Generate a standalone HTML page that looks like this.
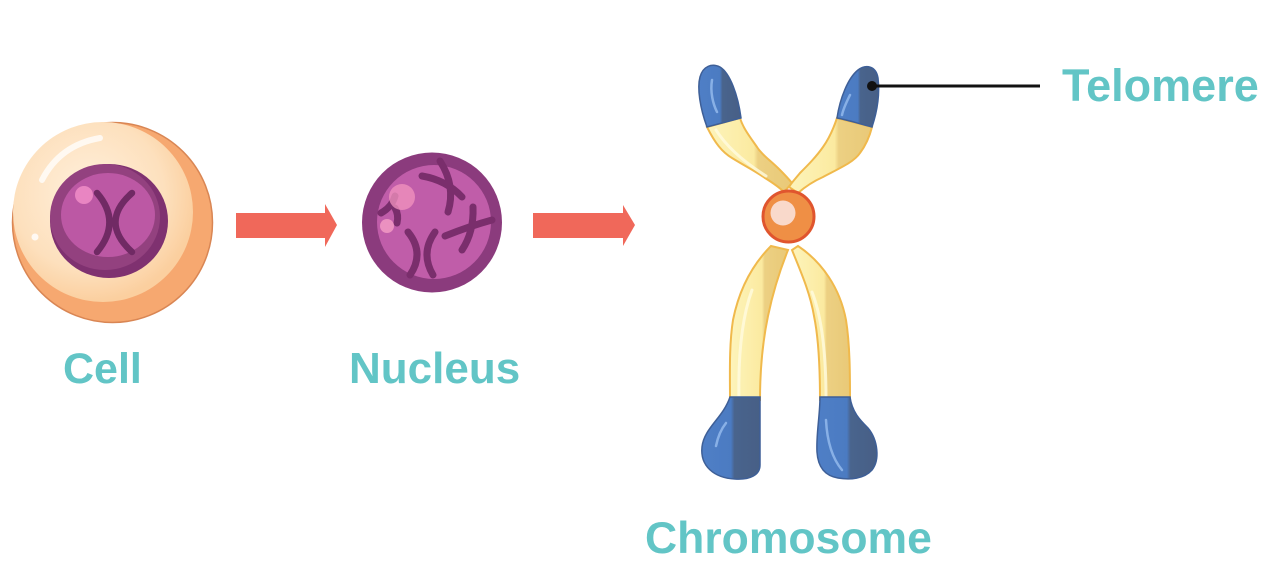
<!DOCTYPE html>
<html>
<head>
<meta charset="utf-8">
<style>
  html,body{margin:0;padding:0;background:#ffffff;}
  body{width:1280px;height:563px;overflow:hidden;}
  svg{display:block;}
  text{font-family:"Liberation Sans",sans-serif;font-weight:bold;fill:#62c5c6;}
</style>
</head>
<body>
<svg width="1280" height="563" viewBox="0 0 1280 563" xmlns="http://www.w3.org/2000/svg">
  <defs>
    <radialGradient id="cellG" cx="0.42" cy="0.4" r="0.6">
      <stop offset="0" stop-color="#fff0dc"/>
      <stop offset="0.7" stop-color="#fde0bd"/>
      <stop offset="1" stop-color="#fbcf9f"/>
    </radialGradient>
    <linearGradient id="blueG" x1="0" y1="0" x2="1" y2="0">
      <stop offset="0" stop-color="#4f7fc6"/>
      <stop offset="0.5" stop-color="#4b7bc2"/>
      <stop offset="0.56" stop-color="#49648d"/>
      <stop offset="1" stop-color="#475f86"/>
    </linearGradient>
    <linearGradient id="yelG" x1="0" y1="0" x2="1" y2="0">
      <stop offset="0" stop-color="#fdf4bb"/>
      <stop offset="0.55" stop-color="#fbeaa0"/>
      <stop offset="0.6" stop-color="#ecd083"/>
      <stop offset="1" stop-color="#e9c977"/>
    </linearGradient>
  </defs>

  <!-- Cell -->
  <circle cx="112.5" cy="222.5" r="100" fill="#f6a870" stroke="#d98654" stroke-width="1.5"/>
  <circle cx="103" cy="212" r="90" fill="url(#cellG)"/>
  <path d="M42,180 Q60,145 100,138" fill="none" stroke="#ffffff" stroke-opacity="0.75" stroke-width="6" stroke-linecap="round"/>
  <circle cx="35" cy="237" r="3.5" fill="#ffffff" opacity="0.8"/>
  <!-- cell nucleus -->
  <ellipse cx="109" cy="221" rx="59" ry="57" fill="#7f3170"/>
  <ellipse cx="105" cy="217" rx="55" ry="53" fill="#93417f"/>
  <ellipse cx="108" cy="215" rx="47" ry="42" fill="#bc58a4"/>
  <circle cx="84" cy="195" r="9" fill="#e985c2"/>
  <path d="M97,193 Q122,222 97,252" fill="none" stroke="#702a64" stroke-width="6.5" stroke-linecap="round"/>
  <path d="M132,193 Q99,222 132,252" fill="none" stroke="#702a64" stroke-width="6.5" stroke-linecap="round"/>

  <!-- Arrow 1 -->
  <polygon points="236,213 325,213 325,204 337,225 325,247 325,238 236,238" fill="#f0685a"/>
  <!-- Arrow 2 -->
  <polygon points="533,213 623,213 623,205 635,225 623,246 623,238 533,238" fill="#f0685a"/>

  <!-- Nucleus -->
  <circle cx="432" cy="222.5" r="70" fill="#8b3b7d"/>
  <circle cx="434" cy="222" r="57" fill="#c05da9"/>
  <g fill="none" stroke="#7a2e6c" stroke-width="7" stroke-linecap="round">
    <path d="M422,176 Q446,180 462,197"/>
    <path d="M440,161 Q456,186 448,212"/>
    <path d="M445,236 Q470,226 492,220"/>
    <path d="M473,207 Q474,232 462,250"/>
    <path d="M408,232 Q425,253 410,275"/>
    <path d="M435,232 Q420,253 433,275"/>
    <path d="M381,213 Q392,207 395,196"/>
    <path d="M395,208 Q399,215 397,223"/>
  </g>
  <circle cx="402" cy="197" r="13" fill="#f394bf" opacity="0.75"/>
  <circle cx="387" cy="226" r="7" fill="#f29ac4" opacity="0.85"/>

  <!-- Chromosome arms -->
  <g stroke="#f0b94c" stroke-width="2" fill="url(#yelG)">
    <!-- top-left -->
    <path d="M707,127 C715,143 722,152 732,158 C745,166 755,171 765,178 C773,183 779,187 784,192 L792,183 C787,177 784,174 780,170 C770,160 762,155 757,147 C750,137 743,128 740,118 Z"/>
    <!-- top-right -->
    <path d="M837,118 C833,130 828,140 823,147 C816,157 808,165 800,173 C796,178 792,182 789,187 L798,193 C806,186 814,181 823,177 C840,168 854,162 860,153 C866,145 870,135 872,127 Z"/>
    <!-- bottom-left -->
    <path d="M771,246 C755,262 740,285 733,320 C729,345 730,375 730,400 L760,400 C760,370 763,340 768,316 C773,292 780,270 788,250 Z"/>
    <!-- bottom-right -->
    <path d="M792,250 C800,270 810,292 814,316 C819,340 820,370 820,400 L850,400 C850,375 850,345 846,320 C840,288 822,262 798,246 Z"/>
  </g>
  <!-- light highlights on arms -->
  <g fill="none" stroke="#fffbe0" stroke-width="3" stroke-linecap="round" opacity="0.8">
    <path d="M716,130 C726,146 744,162 766,176"/>
    <path d="M739,402 C738,360 741,320 752,290"/>
    <path d="M826,398 C826,360 823,320 812,292"/>
  </g>

  <!-- Blue telomere caps -->
  <g stroke="#3e5f97" stroke-width="1.5" fill="url(#blueG)">
    <path d="M707,127 C700,108 697,88 700,77 C703,66 712,63 720,67 C730,73 738,95 741,118 C730,121 718,124 707,127 Z"/>
    <path d="M837,118 C840,98 848,78 858,70 C866,64 876,66 878,78 C880,95 877,112 872,127 C860,124 848,120 837,118 Z"/>
    <path d="M730,397 L760,397 L760,465 C760,475 750,480 735,479 C714,478 700,466 702,447 C704,428 723,418 730,397 Z"/>
    <path d="M820,397 L850,397 C852,412 860,420 868,428 C878,440 880,460 872,470 C864,479 850,480 838,478 C826,476 818,468 817,452 C816,435 820,415 820,397 Z"/>
  </g>
  <g fill="none" stroke="#8fb6ea" stroke-width="2.5" stroke-linecap="round" opacity="0.9">
    <path d="M712,80 C710,92 713,104 717,112"/>
    <path d="M850,95 C846,103 843,110 842,115"/>
    <path d="M716,446 C718,436 722,428 726,423"/>
    <path d="M826,420 C827,440 832,458 842,470"/>
  </g>

  <!-- Centromere -->
  <circle cx="788.5" cy="216.5" r="25.5" fill="#ef8f45" stroke="#e0552e" stroke-width="3"/>
  <circle cx="783" cy="213" r="12.5" fill="#f9d9cb"/>

  <!-- Telomere pointer -->
  <line x1="872" y1="86" x2="1040" y2="86" stroke="#111111" stroke-width="3"/>
  <circle cx="872" cy="86" r="5" fill="#111111"/>

  <!-- Labels -->
  <text x="63" y="383" font-size="43">Cell</text>
  <text x="349" y="383" font-size="44">Nucleus</text>
  <text x="645" y="553" font-size="44.5">Chromosome</text>
  <text x="1062" y="101" font-size="45">Telomere</text>
</svg>
</body>
</html>
